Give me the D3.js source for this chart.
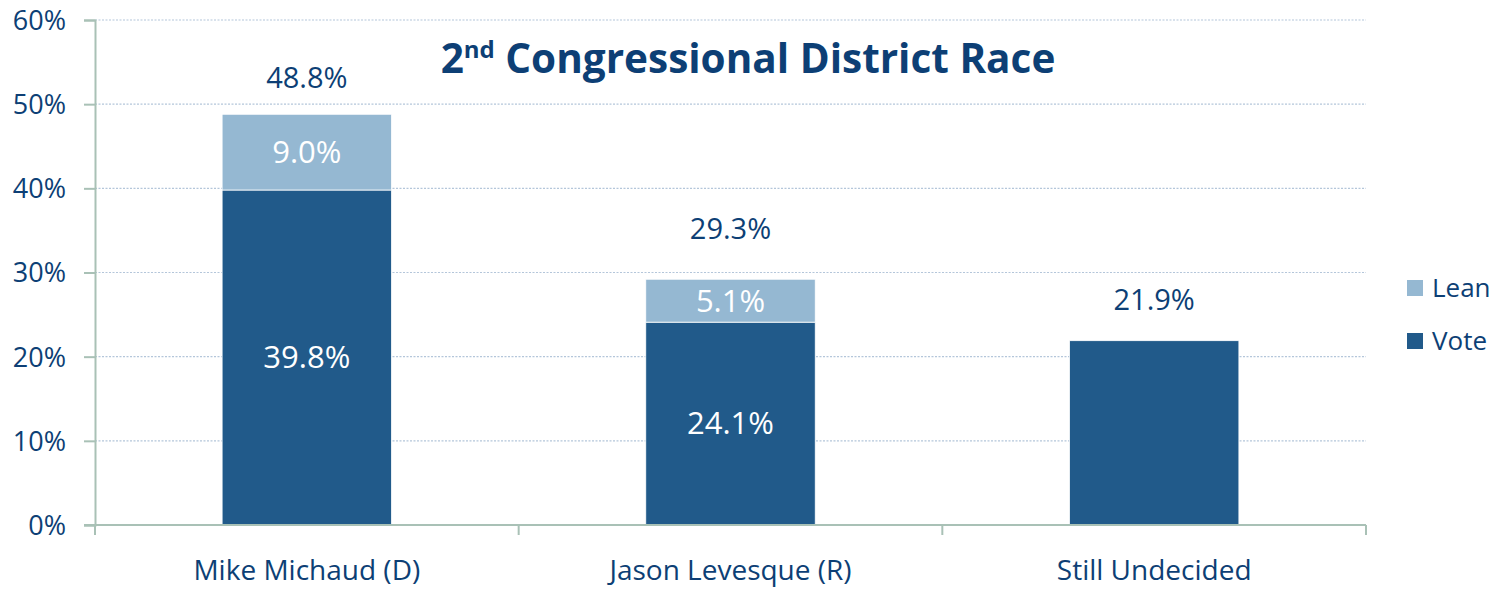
<!DOCTYPE html>
<html>
<head>
<meta charset="utf-8">
<script src="https://cdn.jsdelivr.net/npm/d3@7"></script>
<style>
  html, body { margin: 0; padding: 0; background: #ffffff; }
  svg { display: block; }
  text { font-family: "Open Sans", Lato, sans-serif; }
</style>
</head>
<body>
<div id="chart"></div>
<script>
// ---- data ----
const categories = ["Mike Michaud (D)", "Jason Levesque (R)", "Still Undecided"];
const voteValues = [39.8, 24.1, 21.9];
const leanValues = [9.0, 5.1, 0];
const totalValues = [48.8, 29.3, 21.9];
const yTickValues = [0, 10, 20, 30, 40, 50, 60];
const seriesNames = ["Lean", "Vote"];
const titleMain = "2";
const titleSup = "nd";
const titleRest = " Congressional District Race";

// ---- layout (not data) ----
const W = 1494, H = 589;
const plotLeft = 95, plotRight = 1366, plotTop = 20, plotBottom = 525;
const totalLabelGap = [36, 50, 41];
const darkText = "#0d3f75";
const voteColor = "#215a8a";
const leanColor = "#95b8d2";
const axisColor = "#a9c1b6";
const gridColor = "#b4c6da";

const svg = d3.select("#chart").append("svg").attr("width", W).attr("height", H);

const x = d3.scaleBand().domain(categories).range([plotLeft, plotRight]).paddingInner(0.6).paddingOuter(0.3);
const y = d3.scaleLinear().domain([0, 60]).range([plotBottom, plotTop]);

// gridlines
svg.append("g").selectAll("line").data(yTickValues.filter(d => d > 0)).join("line")
  .attr("x1", plotLeft).attr("x2", plotRight)
  .attr("y1", d => y(d)).attr("y2", d => y(d))
  .attr("stroke", gridColor).attr("stroke-width", 1.2).attr("stroke-dasharray", "2,1.5");

// y axis
const yAxis = d3.axisLeft(y).tickValues(yTickValues).tickFormat(d => d + "%").tickSize(11).tickPadding(18);
const gy = svg.append("g").attr("transform", `translate(${plotLeft},0)`).call(yAxis);
gy.select(".domain").attr("stroke", axisColor).attr("stroke-width", 2);
gy.selectAll(".tick line").attr("stroke", axisColor).attr("stroke-width", 2);
gy.selectAll(".tick text").attr("fill", darkText).style("font-size", "27px").attr("dy", "0.35em");

// stacked bars
const stackData = categories.map((c, i) => ({ cat: c, Vote: voteValues[i], Lean: leanValues[i] }));
const stack = d3.stack().keys(["Vote", "Lean"])(stackData);
const colors = { Vote: voteColor, Lean: leanColor };
stack.forEach(layer => {
  svg.append("g").selectAll("rect").data(layer.filter(d => d[1] - d[0] > 0)).join("rect")
    .attr("x", d => x(d.data.cat))
    .attr("width", x.bandwidth())
    .attr("y", d => y(d[1]))
    .attr("height", d => y(d[0]) - y(d[1]))
    .attr("fill", colors[layer.key])
    .attr("stroke", "#ffffff").attr("stroke-width", 0.8);
});

// inner labels (only for stacked candidates)
stack.forEach(layer => {
  svg.append("g").selectAll("text").data(layer.filter((d, i) => d[1] - d[0] > 0 && leanValues[i] > 0)).join("text")
    .attr("x", d => x(d.data.cat) + x.bandwidth() / 2)
    .attr("y", d => (y(d[0]) + y(d[1])) / 2)
    .attr("dy", "0.35em")
    .attr("text-anchor", "middle")
    .attr("fill", "#ffffff")
    .style("font-size", "31px")
    .text(d => (d[1] - d[0]).toFixed(1) + "%");
});

// total labels
svg.append("g").selectAll("text").data(categories).join("text")
  .attr("x", d => x(d) + x.bandwidth() / 2)
  .attr("y", (d, i) => y(totalValues[i]) - totalLabelGap[i])
  .attr("dy", "0.35em")
  .attr("text-anchor", "middle")
  .attr("fill", darkText)
  .style("font-size", "29px")
  .text((d, i) => totalValues[i].toFixed(1) + "%");

// x axis
const boundaries = d3.range(categories.length + 1).map(i => plotLeft + i * (plotRight - plotLeft) / categories.length);
svg.append("line").attr("x1", plotLeft - 11).attr("x2", plotRight).attr("y1", plotBottom).attr("y2", plotBottom)
  .attr("stroke", axisColor).attr("stroke-width", 2);
svg.append("g").selectAll("line").data(boundaries).join("line")
  .attr("x1", d => d).attr("x2", d => d).attr("y1", plotBottom).attr("y2", plotBottom + 10)
  .attr("stroke", axisColor).attr("stroke-width", 2);
svg.append("g").selectAll("text").data(categories).join("text")
  .attr("x", d => x(d) + x.bandwidth() / 2)
  .attr("y", 580)
  .attr("text-anchor", "middle").attr("fill", darkText)
  .style("font-size", "28px")
  .text(d => d);

// title
const title = svg.append("text").attr("x", 748).attr("y", 73).attr("text-anchor", "middle")
  .attr("fill", darkText).style("font-size", "40.5px").style("font-weight", "bold");
title.append("tspan").text(titleMain);
title.append("tspan").attr("dy", "-15").style("font-size", "24px").text(titleSup);
title.append("tspan").attr("dy", "15").text(titleRest);

// legend
const legendColors = [leanColor, voteColor];
const lg = svg.append("g").selectAll("g").data(seriesNames).join("g")
  .attr("transform", (d, i) => `translate(1407, ${288 + i * 53})`);
lg.append("rect").attr("x", 0).attr("y", -8).attr("width", 16).attr("height", 16).attr("fill", (d, i) => legendColors[i]);
lg.append("text").attr("x", 25).attr("y", 0).attr("dy", "0.35em").attr("fill", darkText)
  .style("font-size", "26px").text(d => d);
</script>
</body>
</html>
